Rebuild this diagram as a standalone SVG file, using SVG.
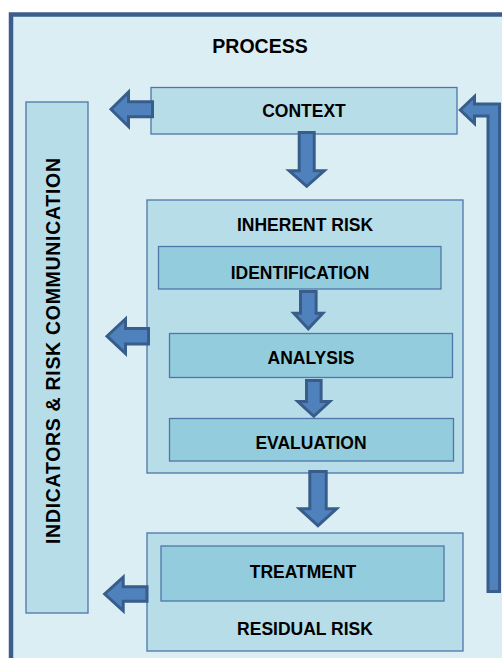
<svg xmlns="http://www.w3.org/2000/svg" width="502" height="658" viewBox="0 0 502 658">
<style>
.frame{fill:#dbeef4;stroke:#3b5e8c;stroke-width:4.5}
.outer{fill:#b7dde8;stroke:#4f76a8;stroke-width:1.3}
.inner{fill:#93cddd;stroke:#4f76a8;stroke-width:1.3}
.arr{fill:#4f81bd;stroke:#385d8a;stroke-width:3;stroke-linejoin:miter}
text{font-family:"Liberation Sans",Arial,sans-serif;font-weight:bold;fill:#000;text-anchor:middle}
.lbl{font-size:17.5px}
</style>
<rect width="502" height="658" fill="#ffffff"/>
<rect id="frame" class="frame" x="11" y="14.5" width="530" height="700"/>
<text x="260" y="53" style="font-size:19.5px">PROCESS</text>

<g id="indicators">
<rect class="outer" x="26" y="102" width="62" height="511"/>
<text class="lbl" transform="translate(59.5,351) rotate(-90)" style="font-size:19.5px" textLength="386" lengthAdjust="spacing">INDICATORS &amp; RISK COMMUNICATION</text>
</g>

<g id="context">
<rect class="outer" x="151" y="87.5" width="306" height="46.5"/>
<text class="lbl" x="304" y="117">CONTEXT</text>
</g>

<g id="inherent">
<rect class="outer" x="147" y="200" width="316" height="273"/>
<text class="lbl" x="305" y="231">INHERENT RISK</text>
</g>

<g id="identification">
<rect class="inner" x="158.5" y="246.5" width="282.5" height="42.5"/>
<text class="lbl" x="300" y="278.5">IDENTIFICATION</text>
</g>

<g id="analysis">
<rect class="inner" x="169.5" y="333.5" width="283" height="44"/>
<text class="lbl" x="311" y="363.5">ANALYSIS</text>
</g>

<g id="evaluation">
<rect class="inner" x="169.5" y="418.5" width="284" height="42.5"/>
<text class="lbl" x="311" y="449">EVALUATION</text>
</g>

<g id="residual">
<rect class="outer" x="147" y="533" width="316" height="118"/>
<text class="lbl" x="305" y="635">RESIDUAL RISK</text>
</g>

<g id="treatment">
<rect class="inner" x="161" y="546" width="283" height="55"/>
<text class="lbl" x="303" y="577.5">TREATMENT</text>
</g>

<g id="connectors">
<path class="arr" d="M299.2,132.5 H314.2 V170.8 H324.2 L306.7,186.3 L289.2,170.8 H299.2 Z"/>
<path class="arr" d="M300.5,291.5 H316.1 V313.2 H322.8 L308.3,328.7 L293.8,313.2 H300.5 Z"/>
<path class="arr" d="M306.5,380.5 H321.1 V401.5 H329.8 L313.8,416.3 L297.8,401.5 H306.5 Z"/>
<path class="arr" d="M309.8,471.5 H326.2 V508.8 H336.5 L318,525.7 L299.5,508.8 H309.8 Z"/>
<path class="arr" d="M152.5,101.8 H128.5 V92.1 L111,109.3 L128.5,126.5 V116.8 H152.5 Z"/>
<path class="arr" d="M148.5,328.5 H125.5 V318.9 L107,336.2 L125.5,353.5 V343.9 H148.5 Z"/>
<path class="arr" d="M147,586.8 H123.2 V577.2 L104.7,594 L123.2,610.8 V601.2 H147 Z"/>
<path class="arr" d="M488,591.5 V116 H474.5 V123.5 L460.3,110 L474.5,96.5 V104 H499.5 V591.5 Z"/>
</g>
</svg>
